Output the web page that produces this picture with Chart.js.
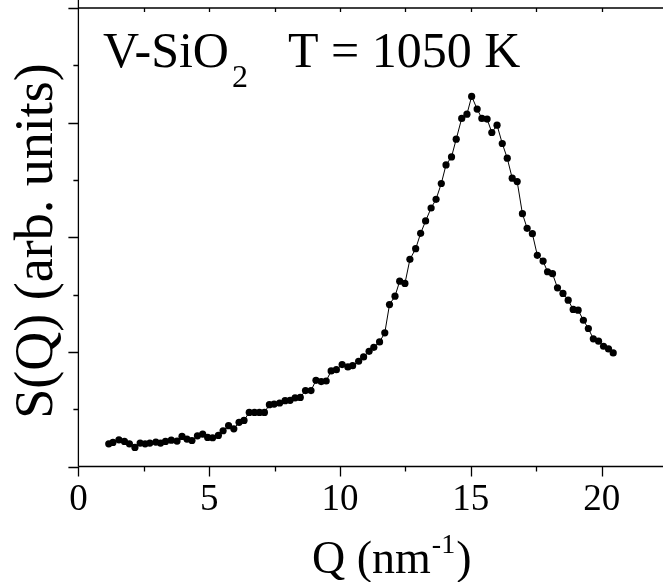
<!DOCTYPE html>
<html>
<head>
<meta charset="utf-8">
<script src="https://cdn.jsdelivr.net/npm/chart.js@4/dist/chart.umd.min.js"></script>
<style>
html,body{margin:0;padding:0;background:#fff;}
#wrap{width:663px;height:582px;position:relative;}
</style>
</head>
<body>
<div id="wrap"><canvas id="c" width="663" height="582"></canvas></div>
<script>
// ---- data ----
const qValues = [1.16,1.32,1.55,1.76,1.95,2.16,2.36,2.55,2.73,2.96,3.14,3.33,3.55,3.77,3.96,4.15,4.34,4.55,4.75,4.94,
  5.13,5.35,5.53,5.74,5.94,6.14,6.33,6.53,6.73,6.92,7.11,7.30,7.48,7.69,7.90,8.09,8.28,8.48,8.68,8.89,
  9.08,9.28,9.47,9.66,9.86,10.08,10.30,10.48,10.71,10.90,11.11,11.29,11.51,11.71,11.89,12.10,12.28,12.48,12.67,12.89,
  13.08,13.27,13.48,13.67,13.87,14.05,14.26,14.44,14.65,14.85,15.03,15.24,15.42,15.62,15.80,16.00,16.20,16.39,16.58,16.77,
  16.97,17.15,17.35,17.54,17.76,17.93,18.12,18.31,18.52,18.72,18.91,19.10,19.30,19.49,19.68,19.88,20.07,20.26,20.44];
const sValues = [0.198,0.210,0.233,0.219,0.198,0.166,0.204,0.198,0.204,0.213,0.204,0.219,0.230,0.222,0.262,0.239,0.227,0.268,0.283,0.254,
  0.251,0.271,0.312,0.356,0.329,0.385,0.402,0.472,0.472,0.472,0.472,0.539,0.545,0.554,0.574,0.577,0.598,0.603,0.662,0.662,
  0.752,0.741,0.746,0.834,0.845,0.889,0.869,0.880,0.918,0.956,1.005,1.040,1.087,1.166,1.413,1.486,1.617,1.597,1.807,1.900,
  2.034,2.142,2.255,2.331,2.469,2.631,2.701,2.856,3.037,3.074,3.229,3.118,3.037,3.031,2.914,2.978,2.818,2.690,2.515,2.486,
  2.206,2.078,2.031,1.842,1.792,1.699,1.682,1.559,1.510,1.451,1.370,1.364,1.276,1.204,1.114,1.093,1.049,1.026,0.991];
const xTickStep = 5;
const xMinorStep = 2.5;
const yMajorStep = 1;
const yMinorStep = 0.5;
const sampleLabel = "V-SiO";
const sampleSub = "2";
const tempLabel = "T = 1050 K";
const xTitleMain = "Q (nm";
const xTitleSup = "-1";
const xTitleEnd = ")";
const yTitle = "S(Q) (arb. units)";

const points = qValues.map((q, i) => ({x: q, y: sValues[i]}));
const SERIF = '"Liberation Serif", "Times New Roman", serif';

const decor = {
  id: 'decor',
  afterDraw(chart) {
    const ctx = chart.ctx;
    const xs = chart.scales.x, ys = chart.scales.y;
    const a = chart.chartArea;
    ctx.save();
    ctx.strokeStyle = '#000';
    ctx.lineWidth = 1.3;
    // axis lines
    ctx.beginPath();
    ctx.moveTo(a.left, 0); ctx.lineTo(a.left, a.bottom);
    ctx.moveTo(a.left, a.bottom); ctx.lineTo(chart.width, a.bottom);
    ctx.moveTo(a.left, a.top); ctx.lineTo(chart.width, a.top);
    ctx.stroke();
    // x ticks (bottom outward, top inward)
    ctx.beginPath();
    for (let v = xs.min; v <= xs.max + 1e-9; v += xMinorStep) {
      const px = Math.round(xs.getPixelForValue(v)) + 0.5;
      const major = Math.abs(v / xTickStep - Math.round(v / xTickStep)) < 1e-6;
      ctx.moveTo(px, a.bottom); ctx.lineTo(px, a.bottom + (major ? 10 : 5));
      if (v > xs.min) { ctx.moveTo(px, a.top); ctx.lineTo(px, a.top + 4); }
    }
    // y ticks (left outward)
    for (let v = ys.min; v <= ys.max + 1e-9; v += yMinorStep) {
      const py = Math.round(ys.getPixelForValue(v)) + 0.5;
      const major = Math.abs(v / yMajorStep - Math.round(v / yMajorStep)) < 1e-6;
      ctx.moveTo(a.left, py); ctx.lineTo(a.left - (major ? 10 : 5), py);
    }
    ctx.stroke();
    // annotation
    ctx.fillStyle = '#000';
    ctx.textBaseline = 'alphabetic';
    ctx.textAlign = 'left';
    ctx.font = '50px ' + SERIF;
    ctx.fillText(sampleLabel, 103, 66.5);
    const w1 = ctx.measureText(sampleLabel).width;
    ctx.font = '32px ' + SERIF;
    ctx.fillText(sampleSub, 103 + w1 + 3, 86.5);
    ctx.font = '50px ' + SERIF;
    ctx.fillText(tempLabel, 288, 66.5);
    // x title
    ctx.font = '46px ' + SERIF;
    const xm = ctx.measureText(xTitleMain).width;
    ctx.font = '28px ' + SERIF;
    const xsup = ctx.measureText(xTitleSup).width;
    let x0 = 312;
    ctx.font = '46px ' + SERIF;
    ctx.fillText(xTitleMain, x0, 573);
    ctx.font = '28px ' + SERIF;
    ctx.fillText(xTitleSup, x0 + xm + 1, 553);
    ctx.font = '46px ' + SERIF;
    ctx.fillText(xTitleEnd, x0 + xm + xsup + 2, 573);
    // y title
    ctx.translate(52, 241);
    ctx.rotate(-Math.PI / 2);
    ctx.textAlign = 'center';
    ctx.font = '54px ' + SERIF;
    ctx.fillText(yTitle, 0, 0);
    ctx.restore();
  }
};

new Chart(document.getElementById('c'), {
  type: 'scatter',
  data: {
    datasets: [{
      data: points,
      showLine: true,
      borderColor: '#000',
      borderWidth: 1,
      backgroundColor: '#000',
      pointBackgroundColor: '#000',
      pointBorderColor: '#000',
      pointRadius: 3.6,
      pointBorderWidth: 0
    }]
  },
  options: {
    responsive: false,
    animation: false,
    layout: {padding: {top: 8, left: 0, right: 0, bottom: 0}},
    plugins: {legend: {display: false}, tooltip: {enabled: false}},
    scales: {
      x: {
        type: 'linear',
        min: 0, max: 22.19,
        border: {display: false},
        grid: {display: false, drawTicks: false},
        afterFit(s) { s.height = 582 - 466.5; },
        afterBuildTicks(s) {
          s.ticks = [];
          for (let v = 0; v <= 20; v += xTickStep) s.ticks.push({value: v});
        },
        ticks: {
          color: '#000',
          padding: 12,
          font: {family: SERIF, size: 37},
          callback: v => String(v)
        }
      },
      y: {
        type: 'linear',
        min: 0, max: 4,
        border: {display: false},
        grid: {display: false, drawTicks: false},
        afterFit(s) { s.width = 78.4; },
        ticks: {display: false, stepSize: yMinorStep}
      }
    }
  },
  plugins: [decor]
});
</script>
</body>
</html>
